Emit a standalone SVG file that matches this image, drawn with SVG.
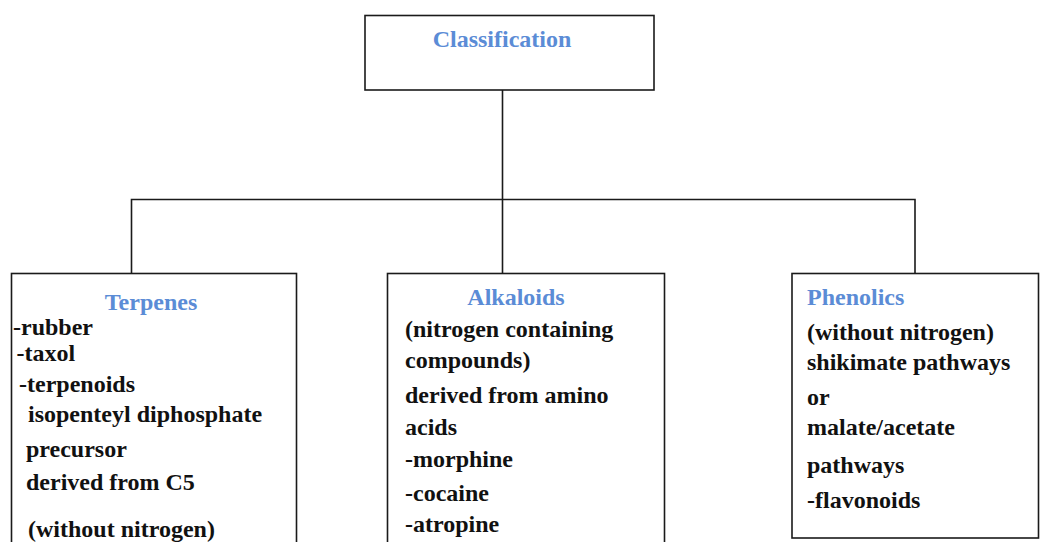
<svg xmlns="http://www.w3.org/2000/svg" width="1040" height="542" viewBox="0 0 1040 542">
<style>
.box{fill:#fff;stroke:#1a1a1a;stroke-width:1.6}
.con{fill:none;stroke:#1a1a1a;stroke-width:1.6}
text{font-family:"Liberation Serif","Times New Roman",serif;font-weight:bold;font-size:24px;fill:#111}
.h{fill:#5b8cd6}
</style>
<rect width="1040" height="542" fill="#fff"/>
<g id="connectors">
<path class="con" d="M502.5 90 V199.5 M131.5 273 V199.5 H915 V273 M502.5 199.5 V273"/>
</g>
<g id="classification">
<rect class="box" x="365" y="15.5" width="289" height="74.5"/>
<text class="h" x="502" y="47" text-anchor="middle">Classification</text>
</g>
<g id="terpenes">
<rect class="box" x="11.5" y="273.5" width="285" height="280"/>
<text class="h" x="151" y="310" text-anchor="middle">Terpenes</text>
<text x="13" y="335">-rubber</text>
<text x="16.5" y="361">-taxol</text>
<text x="19" y="392">-terpenoids</text>
<text x="28" y="422">isopenteyl diphosphate</text>
<text x="26" y="457">precursor</text>
<text x="26" y="490">derived from C5</text>
<text x="28" y="537">(without nitrogen)</text>
</g>
<g id="alkaloids">
<rect class="box" x="387.5" y="273.5" width="277" height="280"/>
<text class="h" x="516" y="305" text-anchor="middle">Alkaloids</text>
<text x="405" y="337">(nitrogen containing</text>
<text x="405" y="368">compounds)</text>
<text x="405" y="403">derived from amino</text>
<text x="405" y="435">acids</text>
<text x="405" y="467">-morphine</text>
<text x="405" y="501">-cocaine</text>
<text x="405" y="532">-atropine</text>
</g>
<g id="phenolics">
<rect class="box" x="792" y="273.5" width="246.5" height="264.5"/>
<text class="h" x="807" y="305">Phenolics</text>
<text x="807" y="340">(without nitrogen)</text>
<text x="807" y="370">shikimate pathways</text>
<text x="807" y="405">or</text>
<text x="807" y="435">malate/acetate</text>
<text x="807" y="473">pathways</text>
<text x="807" y="508">-flavonoids</text>
</g>
</svg>
